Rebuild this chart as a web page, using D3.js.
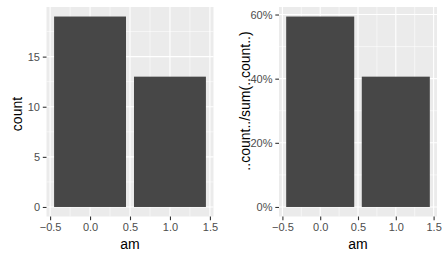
<!DOCTYPE html>
<html>
<head>
<meta charset="utf-8">
<script src="https://cdn.jsdelivr.net/npm/d3@7"></script>
<style>
  body { margin: 0; background: #fff; }
  text { font-family: "Liberation Sans", Arial, sans-serif; }
</style>
</head>
<body>
<svg width="444" height="259"></svg>
<script>
  var am = [0, 1];
  var counts = [19, 13];
  var xTicks = [-0.5, 0.0, 0.5, 1.0, 1.5];
  var xMinor = [-0.25, 0.25, 0.75, 1.25];
  var countTicks = [0, 5, 10, 15];
  var countMinor = [2.5, 7.5, 12.5, 17.5];
  var propTicks = [0, 0.2, 0.4, 0.6];
  var propMinor = [0.1, 0.3, 0.5];

  var total = d3.sum(counts);
  var props = counts.map(function (c) { return c / total; });

  var svg = d3.select('svg');

  function panel(opts) {
    var x = d3.scaleLinear().domain([-0.545, 1.545]).range([opts.left, opts.right]);
    var ymax = d3.max(opts.values) * 1.05;
    var ymin = -d3.max(opts.values) * 0.05;
    var y = d3.scaleLinear().domain([ymin, ymax]).range([216.5, 7]);
    var g = svg.append('g');

    g.append('rect')
      .attr('x', opts.left).attr('y', 7)
      .attr('width', opts.right - opts.left).attr('height', 209.5)
      .attr('fill', '#ebebeb');

    // minor grid
    g.selectAll('.xmin').data(xMinor).enter().append('line')
      .attr('x1', x).attr('x2', x).attr('y1', 7).attr('y2', 216.5)
      .attr('stroke', '#fff').attr('stroke-width', 0.55);
    g.selectAll('.ymin').data(opts.minor).enter().append('line')
      .attr('y1', y).attr('y2', y).attr('x1', opts.left).attr('x2', opts.right)
      .attr('stroke', '#fff').attr('stroke-width', 0.55);
    // major grid
    g.selectAll('.xmaj').data(xTicks).enter().append('line')
      .attr('x1', x).attr('x2', x).attr('y1', 7).attr('y2', 216.5)
      .attr('stroke', '#fff').attr('stroke-width', 1.1);
    g.selectAll('.ymaj').data(opts.ticks).enter().append('line')
      .attr('y1', y).attr('y2', y).attr('x1', opts.left).attr('x2', opts.right)
      .attr('stroke', '#fff').attr('stroke-width', 1.1);

    g.selectAll('.bar').data(opts.values).enter().append('rect')
      .attr('x', function (d, i) { return x(am[i] - 0.45); })
      .attr('width', function (d, i) { return x(am[i] + 0.45) - x(am[i] - 0.45); })
      .attr('y', function (d) { return y(d); })
      .attr('height', function (d) { return y(0) - y(d); })
      .attr('fill', '#474747');

    // y axis
    var ya = g.append('g').attr('transform', 'translate(' + opts.left + ',0)')
      .call(d3.axisLeft(y).tickValues(opts.ticks).tickFormat(opts.fmt)
        .tickSize(3.7).tickPadding(2.8));
    ya.select('.domain').remove();
    ya.selectAll('.tick line').attr('stroke', '#333').attr('stroke-width', 1.1);
    ya.selectAll('.tick text').attr('fill', '#4d4d4d')
      .style('font-size', '11px').style('font-family', '"Liberation Sans", Arial, sans-serif');

    // x axis
    var xa = g.append('g').attr('transform', 'translate(0,216.5)')
      .call(d3.axisBottom(x).tickValues(xTicks).tickFormat(d3.format('.1f'))
        .tickSize(3.7).tickPadding(2.5));
    xa.select('.domain').remove();
    xa.selectAll('.tick line').attr('stroke', '#333').attr('stroke-width', 1.1);
    xa.selectAll('.tick text').attr('fill', '#4d4d4d')
      .style('font-size', '11px').style('font-family', '"Liberation Sans", Arial, sans-serif');

    g.append('text')
      .attr('x', (opts.left + opts.right) / 2).attr('y', 248.5)
      .attr('text-anchor', 'middle').style('font-size', '14px')
      .text('am');

    g.append('text')
      .attr('transform', 'translate(' + opts.titleX + ',' + opts.titleY + ') rotate(-90)')
      .attr('text-anchor', 'middle').style('font-size', '14px')
      .text(opts.title);
  }

  panel({ left: 46.5, right: 213.5, values: counts, ticks: countTicks, minor: countMinor,
    fmt: d3.format('d'), title: 'count', titleX: 21.5, titleY: 114 });
  panel({ left: 279, right: 437, values: props, ticks: propTicks, minor: propMinor,
    fmt: d3.format('.0%'), title: '..count../sum(..count..)', titleX: 249.5, titleY: 101 });
</script>
</body>
</html>
